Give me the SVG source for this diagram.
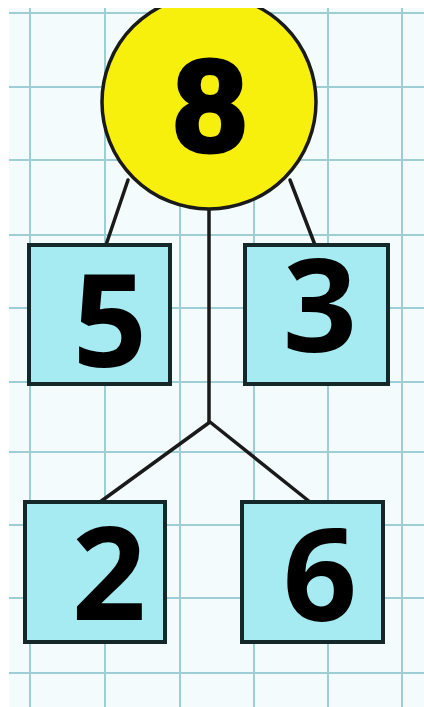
<svg xmlns="http://www.w3.org/2000/svg" width="424" height="707" viewBox="0 0 424 707">
  <defs>
    <style>
      .grid line { stroke: #9fcdd4; stroke-width: 2; }
      .conn { stroke: #1a1a1a; stroke-width: 3.5; fill: none; stroke-linecap: round; stroke-linejoin: round; }
      .box { fill: #a6eaf2; stroke: #14282a; stroke-width: 4; }
      .num { font-family: "Open Sans", "Liberation Sans", sans-serif; font-weight: 700; font-size: 130px; fill: #000; text-anchor: middle; }
    </style>
  </defs>
  <rect x="0" y="0" width="424" height="707" fill="#ffffff"/>
  <rect x="9" y="8" width="415" height="699" fill="#f3fbfc"/>
  <g class="grid">
    <line x1="30" y1="8" x2="30" y2="707"/>
    <line x1="105" y1="8" x2="105" y2="707"/>
    <line x1="180" y1="8" x2="180" y2="707"/>
    <line x1="254" y1="8" x2="254" y2="707"/>
    <line x1="328" y1="8" x2="328" y2="707"/>
    <line x1="402" y1="8" x2="402" y2="707"/>
    <line x1="9" y1="13" x2="424" y2="13"/>
    <line x1="9" y1="87" x2="424" y2="87"/>
    <line x1="9" y1="160" x2="424" y2="160"/>
    <line x1="9" y1="235" x2="424" y2="235"/>
    <line x1="9" y1="308" x2="424" y2="308"/>
    <line x1="9" y1="382" x2="424" y2="382"/>
    <line x1="9" y1="452" x2="424" y2="452"/>
    <line x1="9" y1="525" x2="424" y2="525"/>
    <line x1="9" y1="598" x2="424" y2="598"/>
    <line x1="9" y1="673" x2="424" y2="673"/>
  </g>
  <g id="connectors">
    <line class="conn" x1="128" y1="180" x2="106" y2="245"/>
    <line class="conn" x1="290" y1="180" x2="315" y2="245"/>
    <polyline class="conn" points="209,210 209,422"/>
    <polyline class="conn" points="100,502 210,422 310,502"/>
  </g>
  <g id="node-8">
    <circle cx="209" cy="102" r="107" fill="#f7ef0c" stroke="#1a1a1a" stroke-width="3.5"/>
    <text x="210" y="151" font-family="Liberation Sans, Arial, sans-serif" font-weight="700" font-size="130" text-anchor="middle" fill="#000" stroke="#000" stroke-width="5" stroke-linejoin="round">8</text>
  </g>
  <rect x="0" y="0" width="424" height="8" fill="#ffffff"/>
  <rect x="0" y="0" width="9" height="707" fill="#ffffff"/>
  <g id="node-5">
    <rect class="box" x="29" y="245" width="141" height="139"/>
    <text class="num" x="110" y="367">5</text>
  </g>
  <g id="node-3">
    <rect class="box" x="245" y="245" width="143" height="139"/>
    <text class="num" x="320" y="352">3</text>
  </g>
  <g id="node-2">
    <rect class="box" x="25" y="502" width="140" height="140"/>
    <text class="num" x="109" y="620">2</text>
  </g>
  <g id="node-6">
    <rect class="box" x="242" y="502" width="141" height="140"/>
    <text class="num" x="320" y="621">6</text>
  </g>
</svg>
